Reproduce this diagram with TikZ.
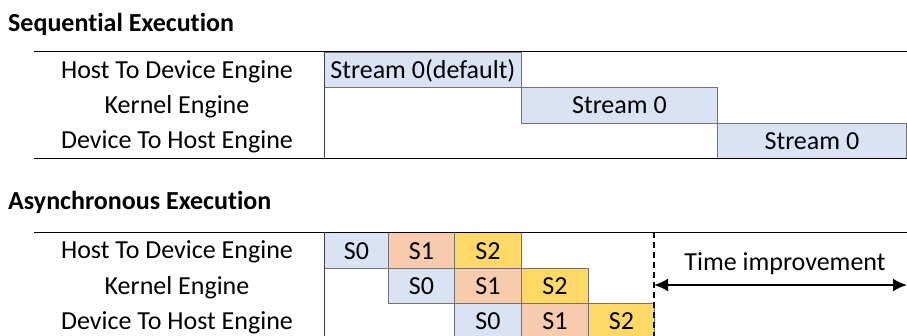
\documentclass[tikz,border=0pt]{standalone}
\usepackage{fontspec}
\setmainfont{Carlito}[Ligatures=NoCommon]
\usepackage{xcolor}
\usepackage{tikz}
\usetikzlibrary{arrows.meta, positioning, calc}

\definecolor{sblue}{HTML}{DAE3F3}
\definecolor{sorange}{HTML}{F8CBAD}
\definecolor{syellow}{HTML}{FFD966}

\begin{document}
\begin{tikzpicture}[
    x=1pt, y=-1pt,
    title/.style={anchor=base west, inner sep=0pt, font=\fontsize{26}{30}\selectfont\bfseries},
    engine/.style={inner sep=0pt, text height=17pt, text depth=0pt, font=\fontsize{26}{30}\selectfont},
    cell/.style={rectangle, draw=black!55, line width=0.8pt, anchor=north west, inner sep=0pt,
        minimum height=35.4pt, text height=17pt, text depth=0pt, font=\fontsize{26}{30}\selectfont},
    rule/.style={line width=1pt},
    arrow/.style={line width=2pt, {Latex[length=14pt,width=13pt]}-{Latex[length=14pt,width=13pt]}}
]
\useasboundingbox (0,0) rectangle (907,336);

% Titles
\node[title] (seqtitle) at (8,32) {Sequential Execution};
\node[title] (asynctitle) at (8,210) {Asynchronous Execution};

% Sequential rows
\node[engine] (seqh2d) at (177,69.7) {Host To Device Engine};
\node[engine] (seqker) at (177,105.1) {Kernel Engine};
\node[engine] (seqd2h) at (177,140.5) {Device To Host Engine};

\node[cell, fill=sblue, minimum width=197pt] (seq0) at (324,52) {Stream 0(default)};
\node[cell, fill=sblue, minimum width=196pt] (seq1) at (521,87.4) {Stream 0};
\node[cell, fill=sblue, minimum width=189pt] (seq2) at (717,122.8) {Stream 0};

\draw[rule] (34,52) -- (907,52);
\draw[rule] (34,158.2) -- (907,158.2);
\draw[rule, black!75] (324,52) -- (324,158.2);

% Asynchronous rows
\node[engine] (ash2d) at (177,250.2) {Host To Device Engine};
\node[engine] (asker) at (177,285.6) {Kernel Engine};
\node[engine] (asd2h) at (177,321) {Device To Host Engine};

\node[cell, fill=sblue, minimum width=64pt] (h0) at (324,232.5) {S0};
\node[cell, fill=sorange, minimum width=66pt] (h1) at (388,232.5) {S1};
\node[cell, fill=syellow, minimum width=67pt] (h2) at (454,232.5) {S2};

\node[cell, fill=sblue, minimum width=66pt] (k0) at (388,267.9) {S0};
\node[cell, fill=sorange, minimum width=67pt] (k1) at (454,267.9) {S1};
\node[cell, fill=syellow, minimum width=67pt] (k2) at (521,267.9) {S2};

\node[cell, fill=sblue, minimum width=67pt] (d0) at (454,303.3) {S0};
\node[cell, fill=sorange, minimum width=67pt] (d1) at (521,303.3) {S1};
\node[cell, fill=syellow, minimum width=66pt] (d2) at (588,303.3) {S2};

\draw[rule] (34,232.5) -- (907,232.5);
\draw[rule, black!75] (324,232.5) -- (324,340);
\draw[line width=1.6pt, dash pattern=on 6pt off 4pt] (654,232.5) -- (654,340);

% Time gain
\coordinate (gainstart) at (654,285);
\coordinate (gainend) at (907,285);
\node[engine] (gain) at (785,262) {Time improvement};
\draw[arrow] (gainstart) -- (gainend);
\end{tikzpicture}
\end{document}
